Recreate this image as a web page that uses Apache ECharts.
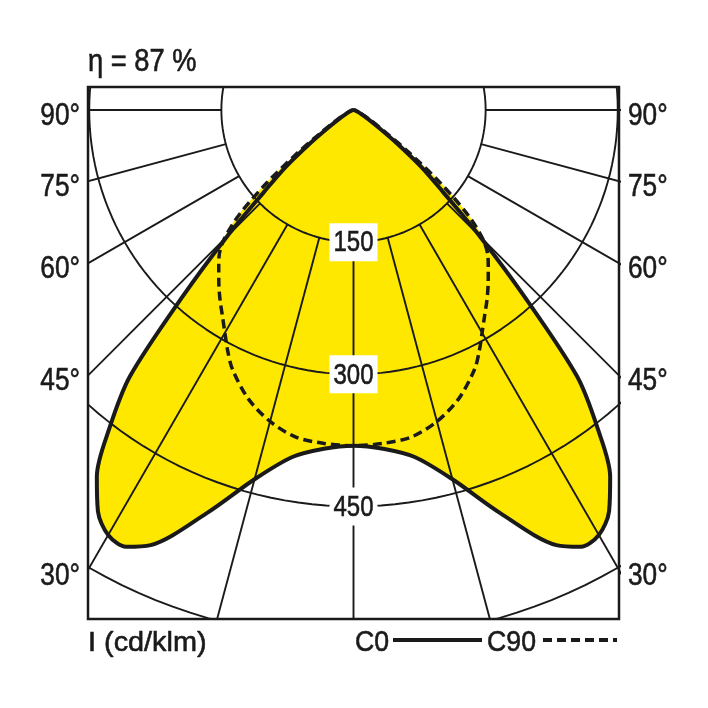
<!DOCTYPE html>
<html><head><meta charset="utf-8">
<script src="https://cdn.jsdelivr.net/npm/echarts@6/dist/echarts.min.js"></script>
<style>html,body{margin:0;padding:0;background:#fff}#c{width:708px;height:708px}</style>
</head><body><div id="c"></div>
<script>
// gamma angles (deg from nadir) and intensities (cd/klm)
const gammaDeg = [0,5,10,15,20,25,27.5,30,32.5,35,37.5,40,42.5,45,47.5,50,52.5,55,60,65,70,80,90];
const c0Values  = [381,386,400,434,487,545,559,557,540,508,455,395,287,203,138,100,62,36,15,7,4,1,0];
const c90Values = [381,380,377,366,349,325,309,292,277,264,251,238,226,208,176,128,80,46,20,9,5,1,0];
const ringValues = [150,300,450,600];
const ringLabels = [150,300,450];
const angleTicks = [90,75,60,45,30];
const angleTickLabels = ['90°','75°','60°','45°','30°'];
const titleText = 'η = 87 %';
const unitText = 'I (cd/klm)';
const legendNames = ['C0','C90'];

const XMIN=-301.4, XMAX=301.4, YMIN=-577.8, YMAX=26.1;
const FONT = '"Liberation Sans",Arial,sans-serif';
const YEL = '#FFE800', INK = '#1a1a1a';
const rad = d => d*Math.PI/180;

function closedCurve(vals){
  const pts=[];
  for(let i=gammaDeg.length-1;i>=0;i--){const g=rad(gammaDeg[i]);pts.push([-vals[i]*Math.sin(g),-vals[i]*Math.cos(g)]);}
  for(let i=1;i<gammaDeg.length;i++){const g=rad(gammaDeg[i]);pts.push([vals[i]*Math.sin(g),-vals[i]*Math.cos(g)]);}
  return pts;
}
const c0Pts = closedCurve(c0Values);
const c90Pts = closedCurve(c90Values);
const SM = 0.3;

const series = [];
[c90Pts,c0Pts].forEach(pts=>{
  series.push({type:'custom',coordinateSystem:'cartesian2d',data:[0],silent:true,z:1,clip:true,
    renderItem:(p,api)=>({type:'polygon',shape:{points:pts.map(q=>api.coord(q)),smooth:SM},style:{fill:YEL,stroke:YEL,lineWidth:1}})});
});
ringValues.forEach(r=>{
  const d=[];for(let a=0;a<=360;a+=2){d.push([r*Math.sin(rad(a)),-r*Math.cos(rad(a))]);}
  series.push({type:'line',data:d,symbol:'none',silent:true,z:3,clip:true,lineStyle:{color:INK,width:1.9}});
});
for(let a=-90;a<=90;a+=15){
  const r0=ringValues[0], r1=900;
  series.push({type:'line',symbol:'none',silent:true,z:3,clip:true,lineStyle:{color:INK,width:1.9},
    data:[[r0*Math.sin(rad(a)),-r0*Math.cos(rad(a))],[r1*Math.sin(rad(a)),-r1*Math.cos(rad(a))]]});
}
series.push({type:'line',name:legendNames[1],data:c90Pts,symbol:'none',smooth:SM,z:5,clip:true,
  lineStyle:{color:INK,width:3.5,type:[9,5]}});
series.push({type:'line',name:legendNames[0],data:c0Pts,symbol:'none',smooth:SM,z:6,clip:true,
  lineStyle:{color:INK,width:4}});

const chart = echarts.init(document.getElementById('c'),null,{renderer:'canvas'});
chart.setOption({
  animation:false,
  backgroundColor:'#fff',
  grid:{left:88,top:87,width:531,height:532,show:true,borderColor:INK,borderWidth:2.5,backgroundColor:'transparent',z:10},
  xAxis:{type:'value',min:XMIN,max:XMAX,show:false},
  yAxis:{type:'value',min:YMIN,max:YMAX,show:false},
  series:series
});

function txt(x,y,text,size,align,sx){
  return {type:'text',x:x,y:y,scaleX:sx,z:100,
    style:{text:text,font:size+'px '+FONT,fill:INK,stroke:INK,lineWidth:0.6,align:align,verticalAlign:'middle'}};
}
const px = p => chart.convertToPixel({xAxisIndex:0,yAxisIndex:0},p);
const g = [];
angleTicks.forEach((a,i)=>{
  const yv = -XMAX*Math.cos(rad(a))/Math.sin(rad(a));
  const L = px([XMIN,yv]), R = px([XMAX,yv]);
  g.push(txt(L[0]-8,L[1]+6,angleTickLabels[i],32,'right',0.82));
  g.push(txt(R[0]+9,R[1]+6,angleTickLabels[i],32,'left',0.82));
});
ringLabels.forEach(v=>{
  const p = px([0,-v]);
  g.push({type:'rect',z:99,shape:{x:p[0]-24,y:p[1]-19,width:48,height:38},style:{fill:'#fff'}});
  g.push(txt(p[0],p[1]+1,String(v),30,'center',0.8));
});
g.push(txt(88,62,titleText,31,'left',0.88));
g.push(txt(88,643,unitText,28,'left',1.03));
g.push(txt(355,643,legendNames[0],30,'left',0.89));
g.push(txt(487,643,legendNames[1],30,'left',0.89));
g.push({type:'line',z:100,shape:{x1:393,y1:640,x2:482,y2:640},style:{stroke:INK,lineWidth:4}});
g.push({type:'line',z:100,shape:{x1:543,y1:640,x2:617,y2:640},style:{stroke:INK,lineWidth:4,lineDash:[9,5]}});
chart.setOption({graphic:g});
</script></body></html>
